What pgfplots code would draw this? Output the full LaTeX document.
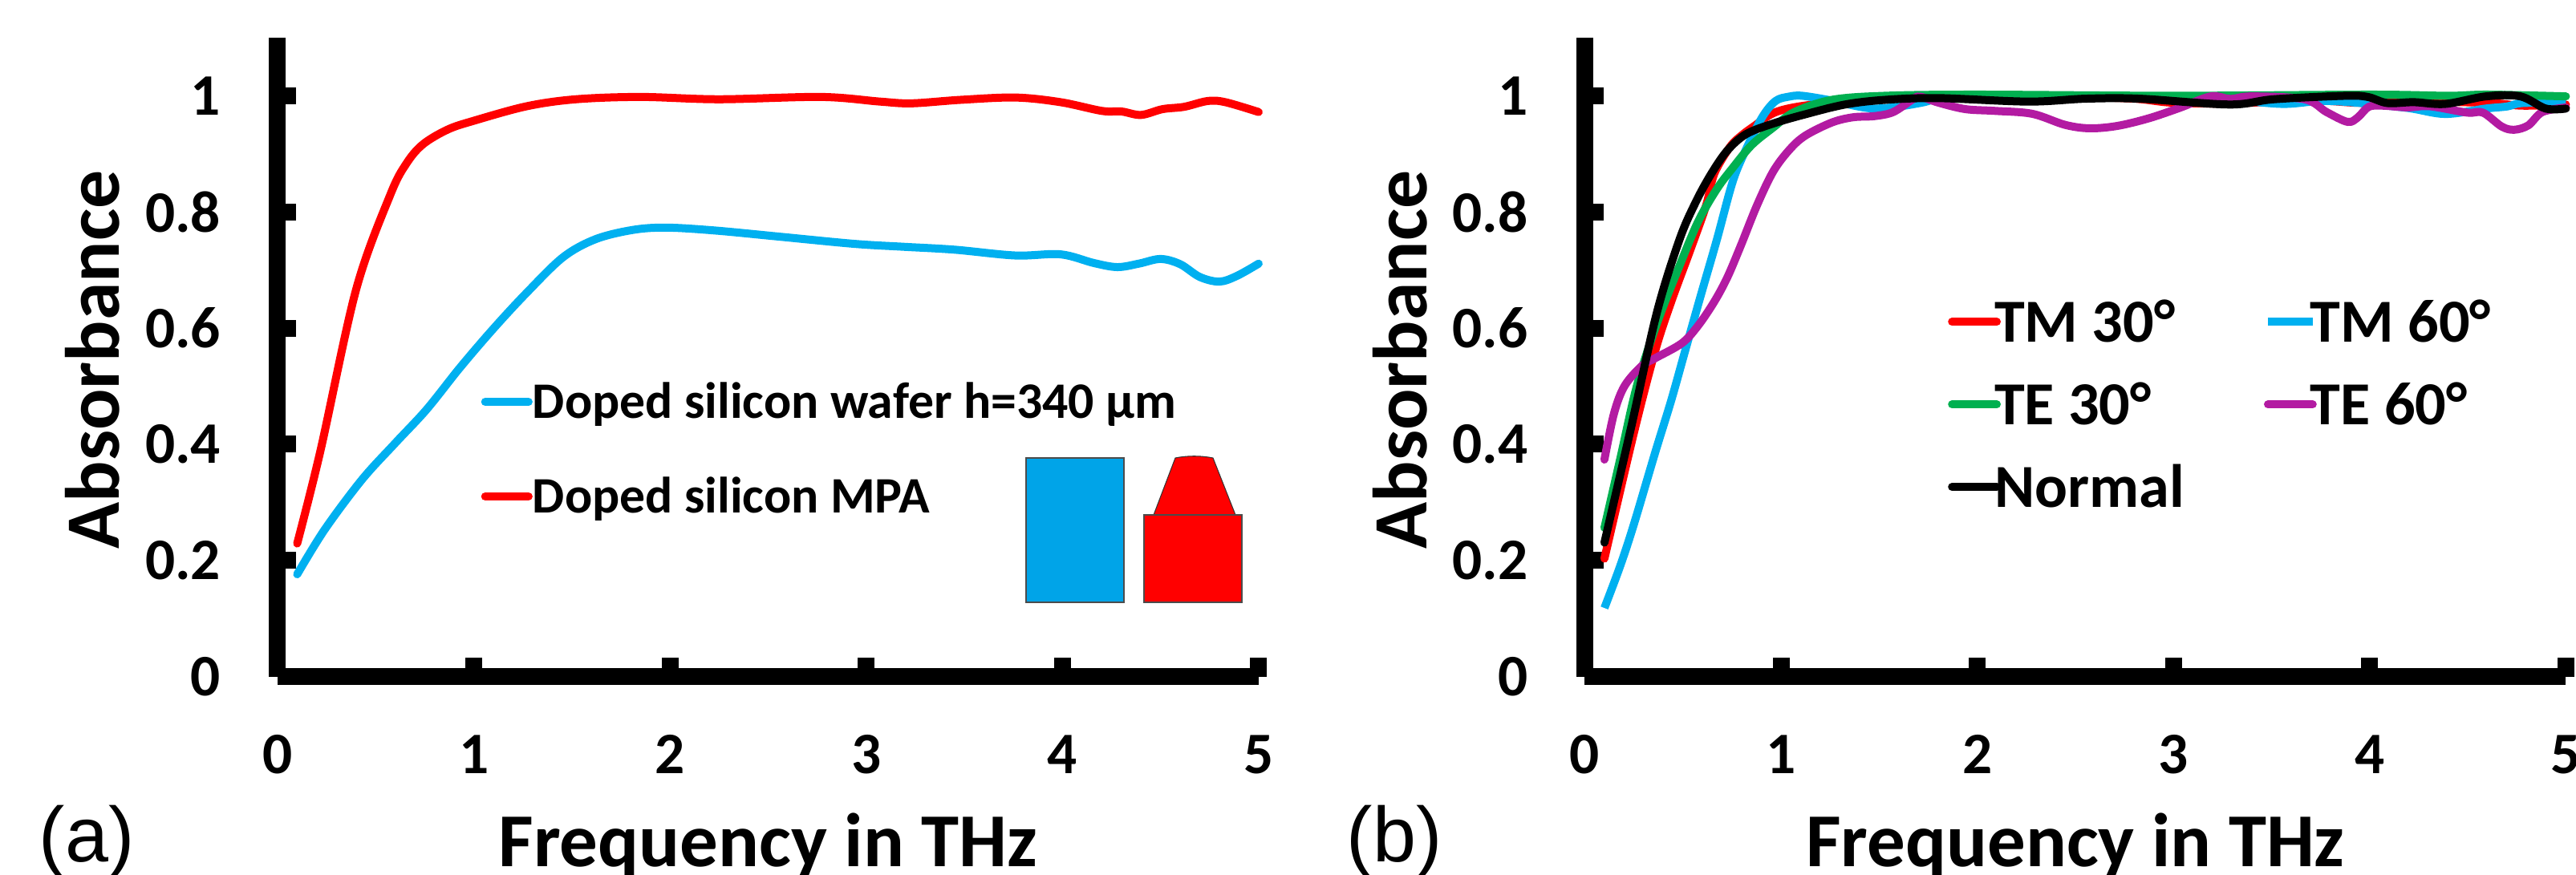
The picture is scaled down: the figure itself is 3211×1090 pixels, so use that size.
\documentclass[border=0pt]{standalone}
\usepackage{pgfplots}
\pgfplotsset{compat=1.18}
\usepackage{fontspec}
\setmainfont{Carlito}
\newfontfamily\arialf{Liberation Sans}
\definecolor{cRed}{HTML}{FF0000}
\definecolor{cCyan}{HTML}{00B0F0}
\definecolor{cGreen}{HTML}{00B050}
\definecolor{cPurple}{HTML}{B31BA2}
\definecolor{cBlock}{HTML}{00A4E8}
\pgfplotsset{
  panel/.style={
    scale only axis, width=293.52pt, height=191.16pt,
    xmin=0, xmax=5, ymin=0, ymax=1.1,
    axis x line=bottom, axis y line=left,
    axis line style={-, line width=5.04pt, black, line cap=butt},
    xtick={0,1,2,3,4,5}, xticklabels={0,1,2,3,4,5},
    ytick={0,0.2,0.4,0.6,0.8,1}, yticklabels={0,0.2,0.4,0.6,0.8,1},
    tick style={line width=5.04pt, black, line cap=butt},
    major tick length=5.64pt, tick align=inside,
    xticklabel style={anchor=north, inner sep=0pt, yshift=-17.4pt, font=\fontsize{17.6pt}{20pt}\selectfont\bfseries},
    yticklabel style={anchor=east, inner sep=0pt, xshift=-16.8pt, font=\fontsize{17.6pt}{20pt}\selectfont\bfseries},
    xlabel={Frequency in THz}, ylabel={Absorbance},
    xlabel style={at={(axis description cs:0.5,-0.297)}, anchor=base, inner sep=0pt, font=\fontsize{22.8pt}{26pt}\selectfont\bfseries},
    ylabel style={at={(axis description cs:-0.1614,0.496)}, anchor=base, rotate=0, inner sep=0pt, font=\fontsize{23pt}{26pt}\selectfont\bfseries},
    clip=false,
    curve/.style={smooth, tension=0.55, line width=2.4pt, line cap=round, line join=round, no marks},
    legend cell align=left,
  },
}
\begin{document}
\begin{tikzpicture}[x=0.24pt,y=0.24pt]
\path[use as bounding box] (0,0) rectangle (3211,1090);

% ---------- panel (a)
\begin{axis}[panel, at={(83.04pt,59.16pt)}, anchor=south west,
  legend image code/.code={\draw[#1] (0pt,0pt) -- (13.0pt,0pt);},
  legend style={at={(axis description cs:0.2068,0.456)}, anchor=north west, draw=none, fill=none, inner sep=0pt,
    row sep=18.7pt, font=\fontsize{15.3pt}{17pt}\selectfont\bfseries, nodes={inner sep=0pt, text height=9.6pt, text depth=0pt}},
]
\addplot[curve, color=cCyan] coordinates {(0.10,0.176)(0.24,0.253)(0.43,0.339)(0.60,0.402)(0.76,0.460)(0.93,0.532)(1.10,0.599)(1.27,0.661)(1.455,0.722)(1.62,0.753)(1.81,0.769)(1.98,0.773)(2.23,0.768)(2.57,0.757)(2.94,0.745)(3.19,0.740)(3.45,0.735)(3.76,0.725)(3.99,0.727)(4.16,0.712)(4.28,0.705)(4.39,0.711)(4.50,0.719)(4.60,0.710)(4.70,0.688)(4.80,0.680)(4.89,0.690)(5.00,0.711)};
\addlegendentry{Doped silicon wafer h=340 µm}
\addplot[curve, color=cRed] coordinates {(0.10,0.229)(0.218,0.388)(0.40,0.666)(0.575,0.830)(0.66,0.885)(0.743,0.917)(0.868,0.942)(1.00,0.957)(1.27,0.982)(1.52,0.994)(1.85,0.998)(2.25,0.994)(2.77,0.998)(3.07,0.990)(3.23,0.987)(3.48,0.993)(3.76,0.997)(3.99,0.989)(4.20,0.974)(4.30,0.973)(4.40,0.967)(4.51,0.977)(4.62,0.981)(4.74,0.991)(4.83,0.989)(5.00,0.972)};
\addlegendentry{Doped silicon MPA}
\end{axis}

% schematic blocks
\filldraw[fill=cBlock, draw=black!70, line width=0.25pt] (1279,339) rectangle (1401,519);
\filldraw[fill=red, draw=black!80, line width=0.25pt] (1438,448) -- (1465,519) .. controls (1480,522) and (1497,522) .. (1512,519) -- (1540,448) -- cycle;
\filldraw[fill=red, draw=black!70, line width=0.25pt] (1426,339) rectangle (1548,448);

\node[anchor=base west, inner sep=0pt, font=\fontsize{23.3pt}{26pt}\selectfont\arialf] at (48,16) {(a)};

% ---------- panel (b)
\begin{axis}[panel, at={(474.12pt,59.16pt)}, anchor=south west,
  legend columns=2,
  legend image code/.code={\draw[#1] (0pt,0pt) -- (11.5pt,0pt); \draw[#1,overlay] (11.4pt,0pt) -- (13.4pt,0pt);},
  legend style={at={(axis description cs:0.3695,0.5876)}, anchor=north west, draw=none, fill=none, inner sep=0pt,
    row sep=12.7pt, font=\fontsize{18.3pt}{20pt}\selectfont\bfseries,
    nodes={inner sep=0pt, text height=12pt, text depth=0pt},
    /tikz/column 2/.style={column sep=23.8pt}},
]
\addplot[curve, color=cRed] coordinates {(0.10,0.203)(0.25,0.4195)(0.358,0.56)(0.44,0.645)(0.536,0.733)(0.618,0.811)(0.66,0.866)(0.74,0.912)(0.80,0.932)(0.864,0.948)(0.96,0.970)(1.081,0.981)(1.30,0.990)(1.60,0.998)(2.00,1.000)(2.50,0.998)(2.80,0.995)(3.00,0.988)(3.30,0.987)(3.70,0.992)(3.93,0.988)(4.10,0.988)(4.30,0.990)(4.62,0.9875)(4.78,0.983)(5.00,0.985)};
\addlegendentry{TM 30°}
\addplot[curve, color=cCyan, line cap=butt] coordinates {(0.10,0.118)(0.18,0.19)(0.25,0.262)(0.358,0.385)(0.44,0.475)(0.509,0.558)(0.59,0.655)(0.672,0.751)(0.754,0.8525)(0.822,0.908)(0.904,0.963)(0.972,0.991)(1.04,0.9985)(1.108,1.000)(1.259,0.9917)(1.395,0.9815)(1.483,0.978)(1.60,0.9815)(1.722,0.9885)(1.804,0.995)(2.00,1.000)(3.00,0.998)(3.30,0.993)(3.557,0.986)(3.748,0.991)(3.92,0.9885)(4.194,0.979)(4.385,0.9687)(4.59,0.978)(4.70,0.9816)(4.78,0.9875)(5.00,0.988)};
\addlegendentry{TM 60°}
\addplot[curve, color=cGreen] coordinates {(0.10,0.256)(0.18,0.374)(0.267,0.5025)(0.373,0.613)(0.48,0.705)(0.577,0.783)(0.672,0.839)(0.754,0.876)(0.85,0.915)(0.959,0.945)(1.068,0.972)(1.259,0.993)(1.531,1.000)(2.00,1.002)(3.00,1.000)(4.00,1.002)(4.40,1.000)(4.60,1.002)(5.00,0.999)};
\addlegendentry{TE 30°}
\addplot[curve, color=cPurple] coordinates {(0.10,0.3735)(0.148,0.452)(0.202,0.50)(0.291,0.535)(0.358,0.548)(0.495,0.574)(0.577,0.604)(0.659,0.645)(0.726,0.687)(0.795,0.742)(0.877,0.811)(0.959,0.869)(1.04,0.906)(1.122,0.931)(1.259,0.954)(1.367,0.963)(1.477,0.965)(1.572,0.972)(1.667,0.993)(1.708,0.9985)(1.804,0.988)(1.94,0.977)(2.09,0.974)(2.28,0.969)(2.447,0.95)(2.572,0.944)(2.712,0.948)(2.872,0.961)(3.03,0.979)(3.19,0.999)(3.29,0.9945)(3.397,0.999)(3.668,0.994)(3.78,0.972)(3.888,0.955)(3.94,0.963)(3.995,0.981)(4.066,0.983)(4.193,0.98)(4.306,0.982)(4.497,0.971)(4.577,0.971)(4.673,0.947)(4.736,0.9415)(4.808,0.949)(4.88,0.972)(5.00,0.98)};
\addlegendentry{TE 60°}
\addplot[curve, color=black] coordinates {(0.10,0.2305)(0.236,0.429)(0.366,0.625)(0.481,0.751)(0.564,0.816)(0.645,0.866)(0.727,0.906)(0.822,0.934)(0.958,0.952)(1.122,0.968)(1.327,0.985)(1.531,0.993)(1.80,0.996)(2.26,0.990)(2.553,0.995)(2.826,0.995)(3.285,0.985)(3.51,0.994)(3.876,1.000)(3.99,0.998)(4.09,0.9875)(4.225,0.989)(4.385,0.986)(4.593,0.999)(4.768,0.999)(4.897,0.978)(5.00,0.978)};
\addlegendentry{Normal}
\end{axis}

\node[anchor=base west, inner sep=0pt, font=\fontsize{23.3pt}{26pt}\selectfont\arialf] at (1678,16) {(b)};
\end{tikzpicture}
\end{document}
